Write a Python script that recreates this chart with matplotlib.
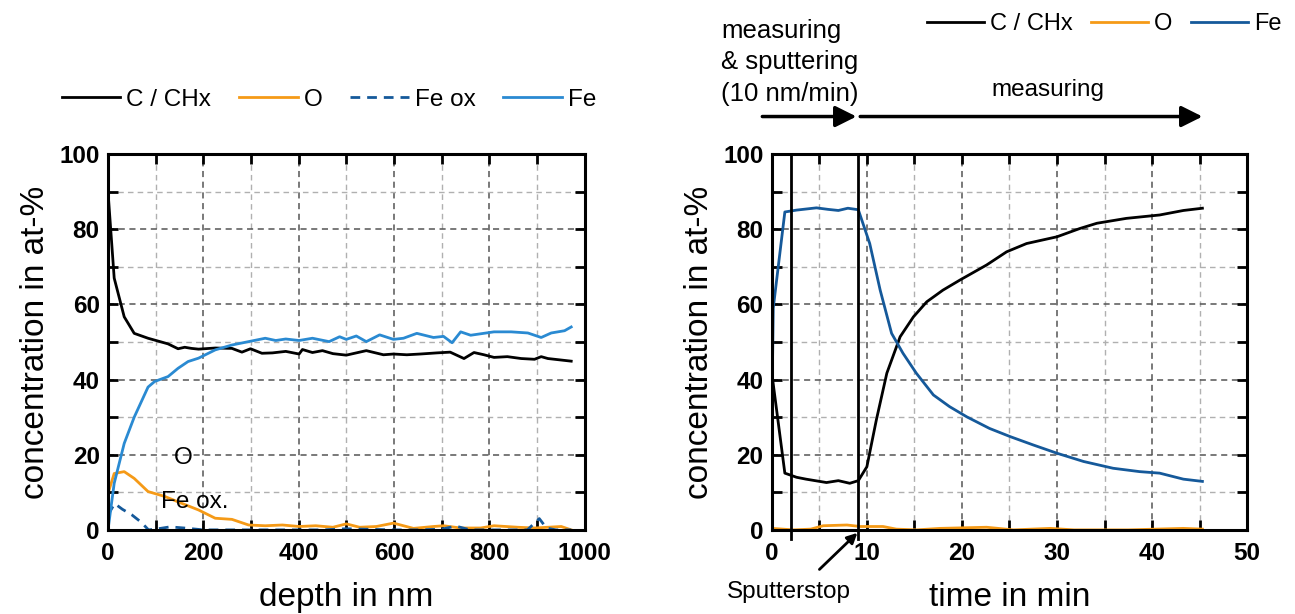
import numpy as np
import matplotlib
matplotlib.use('Agg')
import matplotlib.pyplot as plt
from matplotlib.ticker import MultipleLocator

plt.rcParams['font.family'] = ['Liberation Sans', 'DejaVu Sans']

# left: depth profile (depth in nm, concentration in at-%)
c_depth = [0, 13, 34, 55, 84, 98, 126, 147, 161, 175, 190, 225, 260, 281, 299, 323, 345, 373,
           401, 408, 429, 450, 472, 500, 542, 578, 599, 627, 655, 690, 718, 747, 768, 789,
           810, 838, 867, 895, 909, 923, 951, 972]
c_conc = [90, 67, 56.7, 52.3, 51, 50.5, 49.5, 48.2, 48.6, 48.3, 48.1, 48.4, 48.3, 47.3, 48.2, 47,
          47.1, 47.5, 46.8, 48, 47.2, 47.7, 46.9, 46.5, 47.7, 46.6, 46.8, 46.6, 46.8, 47.1,
          47.3, 45.6, 47.2, 46.6, 45.9, 46.1, 45.6, 45.4, 46.1, 45.6, 45.2, 44.9]
fe_depth = [0, 13, 34, 55, 84, 98, 126, 147, 168, 190, 225, 260, 295, 330, 352, 373, 401, 429,
            464, 486, 500, 521, 542, 570, 599, 620, 648, 683, 704, 722, 740, 761, 810, 846,
            881, 909, 930, 958, 972]
fe_conc = [0, 12.4, 23, 30, 38, 39.5, 40.8, 43, 44.8, 45.7, 47.9, 49.2, 50.1, 51, 50.4, 50.8,
           50.4, 51, 50.1, 51.4, 50.7, 51.6, 50.1, 51.9, 50.7, 51, 52.3, 51.2, 51.5, 49.8,
           52.7, 51.8, 52.7, 52.7, 52.4, 51.2, 52.4, 53, 54]
o_depth = [0, 13, 34, 55, 84, 119, 154, 190, 225, 260, 295, 330, 366, 401, 436, 472, 500, 528,
           563, 599, 641, 683, 704, 740, 782, 810, 860, 895, 951, 972]
o_conc = [9.7, 15, 15.5, 13.7, 10.2, 8.9, 7.1, 5.3, 3.1, 2.8, 1.3, 1.1, 1.3, 0.9, 1.1, 0.7, 1.6,
          0.7, 0.9, 1.8, 0.4, 0.9, 1.1, 0.5, 0.5, 1.1, 0.7, 0.5, 0.9, 0]
feox_depth = [0, 14, 30, 50, 70, 85, 100, 130, 160, 200, 300, 450, 500, 600, 650, 700, 730, 760,
              850, 880, 905, 920, 940, 972]
feox_conc = [4, 7, 5.5, 4, 2, 0, 0.2, 0.8, 0.5, 0, 0, 0, 0.3, 0, 0, 0.2, 1, 0, 0, 0, 3, 0.5, 0, 0]

# right: time profile (time in min, concentration in at-%)
t_c = [0, 1.37, 2.6, 3.6, 5.75, 7, 8.2, 9.1, 10, 11, 12.1, 13.5, 14.9, 16.3, 18, 19.8, 22.6,
       24.7, 26.8, 30, 32.4, 34.2, 37.3, 40.8, 43.3, 45.3]
c_t = [41.7, 15.1, 14, 13.5, 12.6, 13.1, 12.4, 13.1, 16.8, 29.3, 41.7, 51.4, 56.7, 60.7, 63.8,
       66.5, 70.5, 74, 76.2, 78, 80.2, 81.6, 82.9, 83.8, 85, 85.6]
t_fe = [0, 0.15, 1.37, 2.6, 4.7, 5.9, 7, 8, 9.1, 10.3, 11.4, 12.6, 13.8, 15.2, 17, 18.7, 20.5,
        22.9, 25.1, 27.5, 30, 32.8, 35.9, 38.7, 40.8, 43.3, 45.3]
fe_t = [30, 59, 84.6, 85.1, 85.7, 85.3, 85, 85.6, 85.2, 76.2, 63.8, 52.3, 47, 41.7, 35.9, 32.8,
        30.1, 27, 24.8, 22.6, 20.4, 18.2, 16.4, 15.5, 15.1, 13.5, 12.9]
t_o = [0, 2.3, 4.1, 5.4, 7.9, 9.3, 11.7, 13.1, 15.2, 17.7, 22.6, 25.4, 29.3, 31.8, 37.5, 43.3, 45.3]
o_t = [0.4, 0, 0.2, 1.1, 1.3, 0.9, 0.9, 0.2, 0, 0.4, 0.7, 0, 0.4, 0, 0, 0.4, 0.2]

sputter_times = [2, 9.1]

orange = '#f59a17'
lightblue = '#2a8ad2'
darkblue = '#15599a'


def style_axes(ax, xmaj, xmin):
    ax.xaxis.set_major_locator(MultipleLocator(xmaj))
    ax.xaxis.set_minor_locator(MultipleLocator(xmin))
    ax.yaxis.set_major_locator(MultipleLocator(20))
    ax.yaxis.set_minor_locator(MultipleLocator(10))
    ax.grid(which='major', color='#555555', ls=(0, (4, 3)), lw=1.1)
    ax.grid(which='minor', color='#b0b0b0', ls=(0, (4, 3)), lw=1.0)
    ax.set_axisbelow(True)
    ax.tick_params(which='both', direction='in', top=True, right=True,
                   length=7, width=2, labelsize=17.5)
    ax.tick_params(axis='x', pad=9)
    ax.tick_params(axis='y', pad=6)
    for lab in ax.get_xticklabels() + ax.get_yticklabels():
        lab.set_fontweight('bold')
    for sp in ax.spines.values():
        sp.set_linewidth(2.2)
    ax.set_ylim(0, 100)
    ax.set_ylabel('concentration in at-%', fontsize=24, labelpad=6)


fig = plt.figure(figsize=(12.95, 6.14), dpi=100)

ax1 = fig.add_axes([0.0834, 0.137, 0.368, 0.612])
ax1.plot(c_depth, c_conc, color='black', lw=2, label='C / CHx')
ax1.plot(o_depth, o_conc, color=orange, lw=2, label='O')
ax1.plot(feox_depth, feox_conc, color=darkblue, lw=2, ls=(0, (3.5, 2.5)), label='Fe ox')
ax1.plot(fe_depth, fe_conc, color=lightblue, lw=2, label='Fe')
ax1.set_xlim(0, 1000)
style_axes(ax1, 200, 100)
ax1.set_xlabel('depth in nm', fontsize=24, labelpad=12)
ax1.text(158, 19, 'O', fontsize=17.5, ha='center', va='center')
ax1.text(112, 7.5, 'Fe ox.', fontsize=17.5, ha='left', va='center')
ax1.legend(loc='center left', bbox_to_anchor=(-0.117, 1.145), ncol=4, frameon=False,
           fontsize=17.5, handlelength=2.4, handletextpad=0.25, columnspacing=1.15,
           borderaxespad=0)

ax2 = fig.add_axes([0.596, 0.137, 0.367, 0.612])
ax2.plot(t_c, c_t, color='black', lw=2, label='C / CHx')
ax2.plot(t_o, o_t, color=orange, lw=2, label='O')
ax2.plot(t_fe, fe_t, color=darkblue, lw=2, label='Fe')
for ts in sputter_times:
    ax2.axvline(ts, ymin=-0.025, ymax=1, color='black', lw=2, clip_on=False)
ax2.set_xlim(0, 50)
style_axes(ax2, 10, 5)
ax2.set_xlabel('time in min', fontsize=24, labelpad=12)
ax2.legend(loc='center left', bbox_to_anchor=(0.307, 1.345), ncol=3, frameon=False,
           fontsize=17, handlelength=2.4, handletextpad=0.25, columnspacing=0.8,
           borderaxespad=0)

ax2.text(-5.3, 124.4, 'measuring\n& sputtering\n(10 nm/min)', fontsize=18.5, ha='left',
         va='center', linespacing=1.4)
ax2.text(29, 117, 'measuring', fontsize=17.5, ha='center', va='center')
ax2.annotate('', xy=(8.9, 110), xytext=(-1.0, 110), annotation_clip=False,
             arrowprops=dict(arrowstyle='-|>', lw=2.5, color='black', mutation_scale=32,
                             shrinkA=0, shrinkB=0))
ax2.annotate('', xy=(45.3, 110), xytext=(9.3, 110), annotation_clip=False,
             arrowprops=dict(arrowstyle='-|>', lw=2.5, color='black', mutation_scale=32,
                             shrinkA=0, shrinkB=0))
ax2.annotate('Sputterstop', xy=(9.0, -0.8), xytext=(1.8, -16.5), fontsize=17.5,
             ha='center', va='center', annotation_clip=False,
             arrowprops=dict(arrowstyle='-|>', lw=2, color='black', mutation_scale=15,
                             shrinkA=9, shrinkB=0, relpos=(0.65, 1)))

fig.savefig('out.png', dpi=100)
